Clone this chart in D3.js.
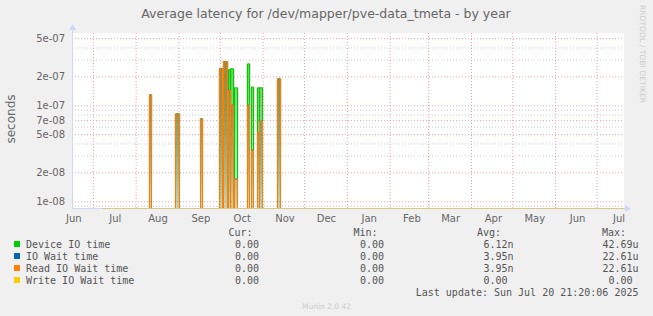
<!DOCTYPE html>
<html lang="en">
<head>
<meta charset="utf-8">
<title>Average latency for /dev/mapper/pve-data_tmeta - by year</title>
<script src="https://cdn.jsdelivr.net/npm/d3@7"></script>
<style>
  body { margin: 0; background: #f0f0f0; }
  text { font-family: "DejaVu Sans", sans-serif; fill: #666; }
  .mono { font-family: "DejaVu Sans Mono", monospace; font-size: 10px; fill: #555; }
</style>
</head>
<body>
<script>
// spikes (start day, length in days) and the per-series latency in seconds
var spikeStarts = ["2024-08-11", "2024-08-30", "2024-09-17", "2024-10-01", "2024-10-04", "2024-10-07",
                   "2024-10-09", "2024-10-12", "2024-10-21", "2024-10-24", "2024-10-28", "2024-10-30", "2024-11-12"];
var spikeDays = [1, 2, 1, 1, 2, 1, 1, 1, 1, 1, 1, 1, 1];
var deviceIO  = [1.28e-7, 8.1e-8, 7.2e-8, 2.4e-7, 2.85e-7, 2.35e-7, 2.4e-7, 1.52e-7, 2.7e-7, 1.55e-7, 1.52e-7, 1.52e-7, 1.88e-7];
var ioWait    = [1.28e-7, 8.1e-8, 7.2e-8, 2.4e-7, 2.85e-7, 1.44e-7, 1.0e-7, 1.7e-8, 1.0e-7, 3.4e-8, 5.2e-8, 6.8e-8, 1.88e-7];
var readWait  = [1.28e-7, 8.1e-8, 7.2e-8, 2.4e-7, 2.85e-7, 1.44e-7, 1.0e-7, 1.7e-8, 1.0e-7, 3.4e-8, 5.2e-8, 6.8e-8, 1.88e-7];
var writeWait = [0, 0, 0, 0, 0, 0, 0, 0, 0, 0, 0, 0, 0];
var dataStart = "2024-07-08";

var yTicks = [1e-8, 2e-8, 5e-8, 7e-8, 1e-7, 2e-7, 5e-7];
var yTickLabels = ["1e-08", "2e-08", "5e-08", "7e-08", "1e-07", "2e-07", "5e-07"];
var yMinorTicks = [9e-9, 3e-8, 4e-8, 6e-8, 8e-8, 9e-8, 3e-7, 4e-7];

var legendNames = ["Device IO time", "IO Wait time", "Read IO Wait time", "Write IO Wait time"];
var legendColors = ["#00cc00", "#0066b3", "#ff8000", "#ffcc00"];
var curValues = ["0.00", "0.00", "0.00", "0.00"];
var minValues = ["0.00", "0.00", "0.00", "0.00"];
var avgValues = ["6.12n", "3.95n", "3.95n", "0.00"];
var maxValues = ["42.69u", "22.61u", "22.61u", "0.00"];

var w = 653, h = 316;
var plotLeft = 72, plotRight = 624, plotTop = 33, plotBottom = 208;
var parseDay = d3.timeParse("%Y-%m-%d");

var svg = d3.select("body").append("svg")
    .attr("width", w)
    .attr("height", h);

svg.append("rect").attr("width", w).attr("height", h).attr("fill", "#f0f0f0");
svg.append("rect")
    .attr("x", plotLeft).attr("y", plotTop)
    .attr("width", plotRight - plotLeft).attr("height", plotBottom - plotTop)
    .attr("fill", "#fff");

var endTime = new Date(2025, 6, 20, 21, 20);
var startTime = d3.timeDay.offset(endTime, -400);

var xScale = d3.scaleTime().domain([startTime, endTime]).range([plotLeft, plotRight]);
var yScale = d3.scaleLog().domain([8.5e-9, 5.66e-7]).range([plotBottom, plotTop]);

// grid
var yMinorGrid = d3.axisLeft(yScale).tickValues(yMinorTicks).tickSize(-(plotRight - plotLeft)).tickFormat("");
svg.append("g").attr("class", "grid")
    .attr("transform", "translate(" + plotLeft + ",0)")
    .call(yMinorGrid)
    .call(function(g) {
        g.select(".domain").remove();
        g.selectAll("line").attr("stroke", "#c8c8c8").attr("stroke-dasharray", "1,2");
    });

var monthStarts = d3.timeMonth.range(d3.timeMonth.ceil(startTime), endTime);
var xGrid = d3.axisBottom(xScale).tickValues(monthStarts).tickSize(-(plotBottom - plotTop)).tickFormat("");
svg.append("g").attr("class", "grid")
    .attr("transform", "translate(0," + plotBottom + ")")
    .call(xGrid)
    .call(function(g) {
        g.select(".domain").remove();
        g.selectAll("line").attr("stroke", "#e8a0a0").attr("stroke-dasharray", "1,2");
    });

var yMajorGrid = d3.axisLeft(yScale).tickValues(yTicks).tickSize(-(plotRight - plotLeft)).tickFormat("");
svg.append("g").attr("class", "grid")
    .attr("transform", "translate(" + plotLeft + ",0)")
    .call(yMajorGrid)
    .call(function(g) {
        g.select(".domain").remove();
        g.selectAll("line").attr("stroke", "#e8a0a0").attr("stroke-dasharray", "1,2");
    });

// gradients for the spike fills
var defs = svg.append("defs");
legendColors.concat(["#9a9a80"]).forEach(function(c, i) {
    var grad = defs.append("linearGradient")
        .attr("id", "fill" + i)
        .attr("gradientUnits", "userSpaceOnUse")
        .attr("x1", 0).attr("x2", 0)
        .attr("y1", plotTop + 20).attr("y2", plotBottom);
    grad.append("stop").attr("offset", "0").attr("stop-color", c).attr("stop-opacity", i < 4 ? 0.6 : 0.35);
    grad.append("stop").attr("offset", "1").attr("stop-color", c).attr("stop-opacity", i < 4 ? 0.12 : 0.08);
});

var series = [deviceIO, ioWait, readWait, writeWait];

// each point: [date, value, edge] where edge is -1 for a rising side, +1 for a falling side
function spikePoints(values, i) {
    var s = parseDay(spikeStarts[i]);
    var e = d3.timeDay.offset(s, spikeDays[i]);
    return [[s, 0, -1], [s, values[i], -1], [e, values[i], 1], [e, 0, 1]];
}

var sx = function(d) {
    var x = xScale(d[0]);
    return (d[2] < 0 ? Math.floor(x) : Math.ceil(x)) + 0.5;
};
var sy = function(d) { return d[1] > 0 ? yScale(d[1]) : plotBottom; };

var area = d3.area().x(sx).y0(plotBottom).y1(sy);
var halo = d3.area().x(function(d) { return sx(d) + d[2] * 1.5; }).y0(plotBottom).y1(sy);
var line = d3.line().x(sx).y(sy);

// pale shading around the spikes
var allSpikes = spikeStarts.map(function(s, i) { return spikePoints(deviceIO, i); });
svg.append("g").selectAll("path")
    .data(allSpikes)
    .enter()
    .append("path")
    .attr("d", halo)
    .attr("fill", "url(#fill4)");

series.forEach(function(values, k) {
    var g = svg.append("g");
    var spikes = spikeStarts.map(function(s, i) { return spikePoints(values, i); })
        .filter(function(p) { return p[1][1] > 0; });
    g.selectAll("path.area")
        .data(spikes)
        .enter()
        .append("path")
        .attr("class", "area")
        .attr("d", area)
        .attr("fill", "url(#fill" + k + ")");
    g.selectAll("path.line")
        .data(spikes)
        .enter()
        .append("path")
        .attr("class", "line")
        .attr("d", line)
        .attr("fill", "none")
        .attr("stroke", legendColors[k])
        .attr("stroke-width", 1);
});

// axes
var axisColor = "#cfd6f8";
svg.append("line")
    .attr("x1", plotLeft + 0.5).attr("x2", plotLeft + 0.5)
    .attr("y1", plotBottom + 1).attr("y2", plotTop - 4)
    .attr("stroke", axisColor);
svg.append("line")
    .attr("x1", plotLeft).attr("x2", plotRight + 2)
    .attr("y1", plotBottom + 0.5).attr("y2", plotBottom + 0.5)
    .attr("stroke", axisColor);
svg.append("path")
    .attr("d", "M" + (plotLeft - 3) + "," + (plotTop - 3) + "L" + (plotLeft + 0.5) + "," + (plotTop - 9) + "L" + (plotLeft + 4) + "," + (plotTop - 3) + "Z")
    .attr("fill", axisColor);
svg.append("path")
    .attr("d", "M" + (plotRight + 1) + "," + (plotBottom - 3) + "L" + (plotRight + 7) + "," + (plotBottom + 0.5) + "L" + (plotRight + 1) + "," + (plotBottom + 4) + "Z")
    .attr("fill", axisColor);

// zero baseline of all series, on top of the axis
svg.append("line")
    .attr("x1", xScale(parseDay(dataStart))).attr("x2", plotRight)
    .attr("y1", plotBottom + 0.5).attr("y2", plotBottom + 0.5)
    .attr("stroke", "#d9c78a");

var yAxis = d3.axisLeft(yScale)
    .tickValues(yTicks)
    .tickFormat(function(d, i) { return yTickLabels[i]; })
    .tickSize(0)
    .tickPadding(7);
svg.append("g")
    .attr("transform", "translate(" + plotLeft + ",0)")
    .call(yAxis)
    .call(function(g) {
        g.select(".domain").remove();
        g.selectAll("text").attr("fill", "#666").style("font-family", "DejaVu Sans").attr("font-size", 10);
    });

var labelDates = d3.timeMonth.range(d3.timeMonth.floor(startTime), endTime).map(function(m) {
    return d3.timeHour.offset(m, 15.9 * 24);
});
var xAxis = d3.axisBottom(xScale)
    .tickValues(labelDates)
    .tickFormat(d3.timeFormat("%b"))
    .tickSize(0)
    .tickPadding(7);
svg.append("g")
    .attr("transform", "translate(0," + plotBottom + ")")
    .call(xAxis)
    .call(function(g) {
        g.select(".domain").remove();
        g.selectAll("text").attr("fill", "#666").style("font-family", "DejaVu Sans").attr("font-size", 10);
    });

// titles
svg.append("text")
    .attr("x", 326).attr("y", 18)
    .attr("text-anchor", "middle")
    .attr("font-size", 12.5)
    .text("Average latency for /dev/mapper/pve-data_tmeta - by year");

svg.append("text")
    .attr("transform", "translate(15,119) rotate(-90)")
    .attr("text-anchor", "middle")
    .attr("font-size", 12)
    .text("seconds");

svg.append("text")
    .attr("transform", "translate(640,5) rotate(90)")
    .attr("font-size", 7.5)
    .attr("textLength", 98)
    .style("fill", "#ccc")
    .text("RRDTOOL / TOBI OETIKER");

// legend
var colEnds = [259, 384, 507.5, 632.5];
var colHeads = ["Cur:", "Min:", "Avg:", "Max:"];
var columns = [curValues, minValues, avgValues, maxValues];

colHeads.forEach(function(t, c) {
    svg.append("text").attr("class", "mono")
        .attr("x", colEnds[c] - 6.5).attr("y", 236)
        .attr("text-anchor", "end")
        .text(t);
});

legendNames.forEach(function(name, i) {
    var y = 248 + i * 12;
    svg.append("rect")
        .attr("x", 14).attr("y", y - 7)
        .attr("width", 6).attr("height", 6)
        .attr("fill", legendColors[i]);
    svg.append("text").attr("class", "mono")
        .attr("x", 26).attr("y", y)
        .text(name);
    columns.forEach(function(vals, c) {
        var v = vals[i];
        var m = v.match(/^([\d.]+)(\D*)$/);
        svg.append("text").attr("class", "mono")
            .attr("x", colEnds[c]).attr("y", y)
            .attr("text-anchor", "end")
            .text(m[1]);
        if (m[2]) {
            svg.append("text").attr("class", "mono")
                .attr("x", colEnds[c]).attr("y", y)
                .text(m[2]);
        }
    });
});

svg.append("text").attr("class", "mono")
    .attr("x", 638.5).attr("y", 296)
    .attr("text-anchor", "end")
    .text("Last update: Sun Jul 20 21:20:06 2025");

svg.append("text")
    .attr("x", 326.5).attr("y", 308.5)
    .attr("text-anchor", "middle")
    .attr("font-size", 7.5)
    .style("fill", "#ccc")
    .text("Munin 2.0.42");
</script>
</body>
</html>
